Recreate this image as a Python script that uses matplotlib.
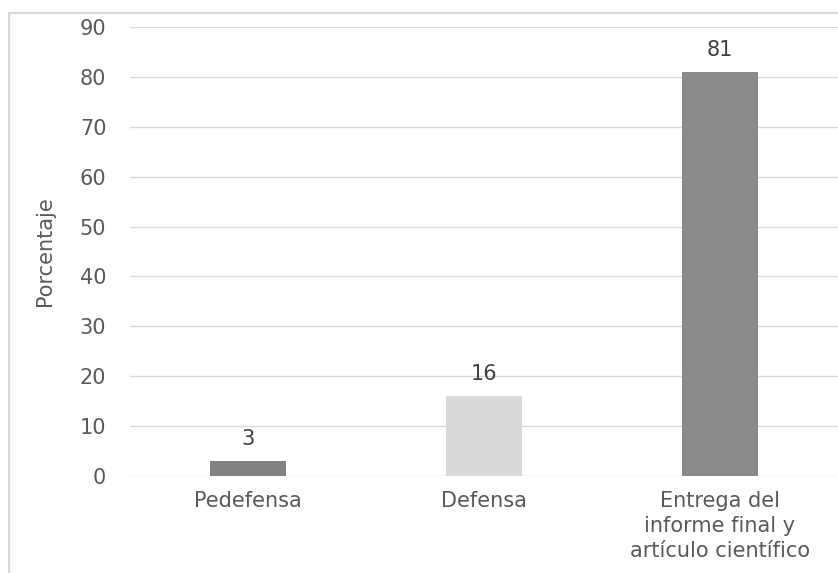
import matplotlib.pyplot as plt
from matplotlib.patches import Rectangle

plt.rcParams['font.family'] = ['DejaVu Sans']

# data
categorias = ['Pedefensa', 'Defensa', 'Entrega del\ninforme final y\nartículo científico']
porcentajes = [3, 16, 81]
colores = ['#828282', '#d9d9d9', '#8a8a8a']

fig = plt.figure(figsize=(8.38, 5.73), dpi=100)
ax = fig.add_axes([0.155, 0.1693, 0.845, 0.7836])

x = range(len(categorias))
bars = ax.bar(x, porcentajes, width=0.32, color=colores, zorder=3)

# value labels above each bar
for b, v in zip(bars, porcentajes):
    ax.text(b.get_x() + b.get_width() / 2, v + 2.4, str(v), ha='center', va='bottom',
            fontsize=15, color='#404040')

ax.set_xlim(-0.5, 2.5)
ax.set_ylim(0, 90)
ax.set_yticks(range(0, 91, 10))
ax.set_xticks(list(x))
ax.set_xticklabels(categorias, linespacing=1.3)
ax.tick_params(axis='both', length=0, labelsize=15, labelcolor='#595959')
ax.tick_params(axis='y', pad=17)
ax.tick_params(axis='x', pad=11)
ax.grid(axis='y', color='#d9d9d9', linewidth=1, zorder=0)
for s in ax.spines.values():
    s.set_visible(False)
ax.set_ylabel('Porcentaje', fontsize=15, color='#595959', labelpad=18)

# light frame of the original chart (cut on the right and bottom)
fig.patches.append(Rectangle((9 / 838, -0.1), 1.2, 0.1 + 560 / 573, transform=fig.transFigure,
                             fill=False, edgecolor='#d9d9d9', linewidth=1.5))

fig.savefig('out.png', dpi=100)
